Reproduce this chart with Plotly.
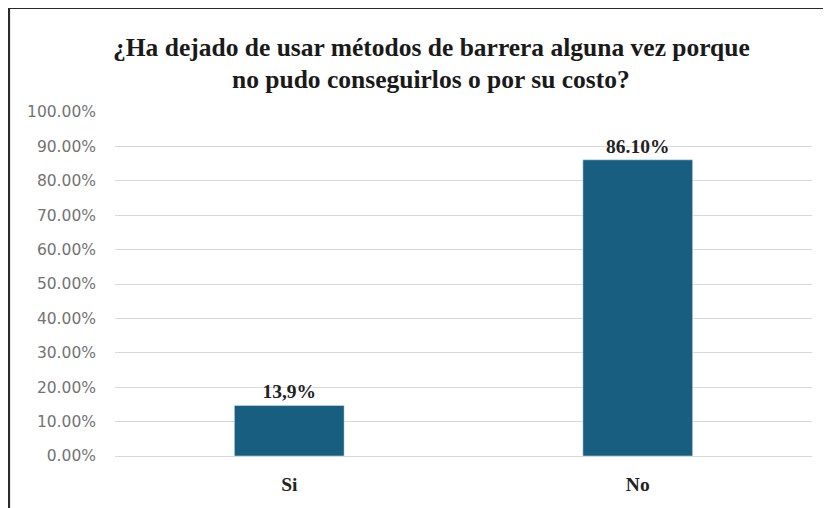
import plotly.graph_objects as go

categories = ["Si", "No"]
values = [14.7, 86.1]
value_labels = ["13,9%", "86.10%"]
y_ticks = [0, 10, 20, 30, 40, 50, 60, 70, 80, 90, 100]
y_tick_labels = ["0.00%", "10.00%", "20.00%", "30.00%", "40.00%", "50.00%",
                 "60.00%", "70.00%", "80.00%", "90.00%", "100.00%"]
title_lines = ["¿Ha dejado de usar métodos de barrera alguna vez porque",
               "no pudo conseguirlos o por su costo?"]

W, H = 831, 508
OFF = 8  # page body margin
L, T = 115 - OFF, 112 - OFF
R = W - (812 - OFF)
B = H - (456 - OFF)
pw, ph = W - L - R, H - T - B

def px_x(x):
    return (x - OFF - L) / pw

def px_y(y):
    return (H - B - (y - OFF)) / ph

fig = go.Figure()
fig.add_trace(go.Bar(
    x=categories, y=values, text=value_labels, textposition="outside",
    marker=dict(color="#175e80"),
    textfont=dict(family="Liberation Serif", size=19.5, color="#222222", weight="bold"),
    cliponaxis=False,
))

fig.update_layout(
    width=W, height=H,
    margin=dict(l=L, r=R, t=T, b=B),
    paper_bgcolor="white", plot_bgcolor="white",
    bargap=0.685,
    showlegend=False,
    xaxis=dict(
        showgrid=False, showline=False, zeroline=False, ticks="",
        tickfont=dict(family="Liberation Serif", size=19.5, color="#222222", weight="bold"),
        ticklabelstandoff=14,
    ),
    yaxis=dict(
        range=[0, 100], tickvals=y_ticks, ticktext=y_tick_labels,
        showgrid=True, gridcolor="#d9d9d9", gridwidth=1.3,
        zeroline=True, zerolinecolor="#d9d9d9", zerolinewidth=1.3,
        showline=False, ticks="",
        tickfont=dict(family="DejaVu Sans", size=15.5, color="#737373"),
        ticklabelstandoff=18,
    ),
)

for i, line in enumerate(title_lines):
    fig.add_annotation(
        text=line, xref="paper", yref="paper",
        x=px_x(431), y=px_y(47 + 32 * i), xanchor="center", yanchor="middle",
        showarrow=False,
        font=dict(family="Liberation Serif", size=25.5, color="#1a1a1a", weight="bold"),
    )

fig.add_shape(
    type="rect", xref="paper", yref="paper",
    x0=px_x(9), x1=px_x(850), y0=px_y(530), y1=px_y(8),
    line=dict(color="#2a2a2a", width=2.2), fillcolor="rgba(0,0,0,0)",
    layer="above",
)

fig.write_html("out.html")
